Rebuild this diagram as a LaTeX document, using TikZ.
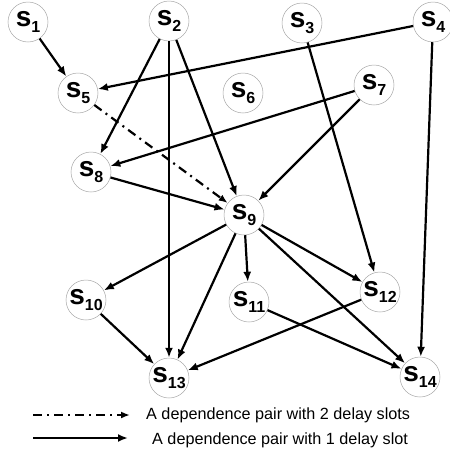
\documentclass[tikz,border=0pt]{standalone}
\usepackage{fontspec}
\setmainfont{Liberation Sans}
\usetikzlibrary{arrows.meta}
\tikzset{
stmt/.style={circle,draw=gray!70,line width=.5pt,minimum size=40pt,inner sep=0pt,align=center},
arrow/.style={-{Latex[length=10pt,width=8pt]},line width=2.2pt},
dasharrow/.style={-{Latex[length=9pt,width=7pt]},line width=2.2pt,dash pattern=on 9pt off 5pt on 2pt off 5pt}
}
\newcommand{\slabel}[1]{{\fontsize{28}{28}\selectfont\bfseries s\raisebox{-6pt}{\fontsize{16}{16}\selectfont #1}}}

\begin{document}
\begin{tikzpicture}[x=1pt,y=-1pt]
\useasboundingbox (0,0) rectangle (450,461);

\node[stmt] (s1) at (28,22) {\slabel{1}};
\node[stmt] (s2) at (169,21) {\slabel{2}};
\node[stmt] (s3) at (302,23) {\slabel{3}};
\node[stmt] (s4) at (433,22) {\slabel{4}};
\node[stmt] (s5) at (78,93) {\slabel{5}};
\node[stmt] (s6) at (243,93) {\slabel{6}};
\node[stmt] (s7) at (374,85) {\slabel{7}};
\node[stmt] (s8) at (91,172) {\slabel{8}};
\node[stmt] (s9) at (244,215) {\slabel{9}};
\node[stmt] (s10) at (86,300) {\slabel{10}};
\node[stmt] (s11) at (249,302) {\slabel{11}};
\node[stmt] (s12) at (380,292) {\slabel{12}};
\node[stmt] (s13) at (169,378) {\slabel{13}};
\node[stmt] (s14) at (420,377) {\slabel{14}};

\draw[arrow] (s1)--(s5);
\draw[arrow] (s4)--(s5);
\draw[arrow] (s2)--(s8);
\draw[arrow] (s2)--(s13);
\draw[arrow] (s2)--(s9);
\draw[arrow] (s3)--(s12);
\draw[arrow] (s4)--(s14);
\draw[arrow] (s7)--(s8);
\draw[arrow] (s7)--(s9);
\draw[arrow] (s8)--(s9);
\draw[dasharrow] (s5)--(s9);
\draw[arrow] (s9)--(s10);
\draw[arrow] (s9)--(s13);
\draw[arrow] (s9)--(s11);
\draw[arrow] (s9)--(s12);
\draw[arrow] (s9)--(s14);
\draw[arrow] (s10)--(s13);
\draw[arrow] (s12)--(s13);
\draw[arrow] (s11)--(s14);

% legend
\coordinate (twoa) at (33,415);
\coordinate (twob) at (130,415);
\coordinate (onea) at (33,438);
\coordinate (oneb) at (128,438);
\draw[dasharrow] (twoa)--(twob);
\draw[arrow] (onea)--(oneb);
\node[anchor=west,font=\fontsize{16.2}{16}\selectfont,inner sep=0pt] (twotext) at (146,415) {A dependence pair with 2 delay slots};
\node[anchor=west,font=\fontsize{16.2}{16}\selectfont,inner sep=0pt] (onetext) at (152,440) {A dependence pair with 1 delay slot};
\end{tikzpicture}
\end{document}
